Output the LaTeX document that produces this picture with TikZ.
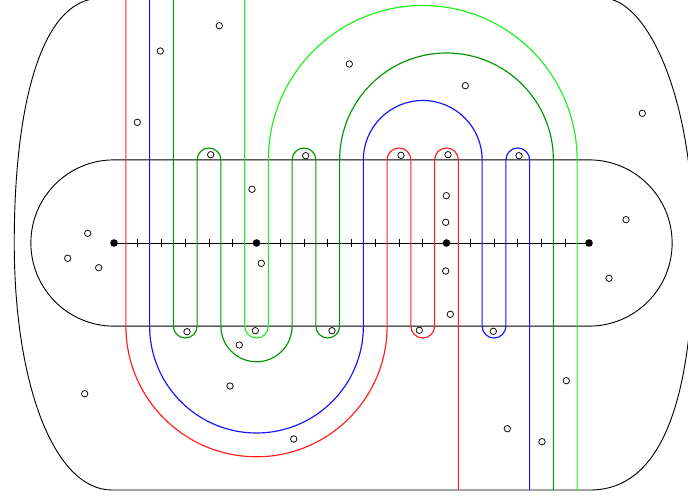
\documentclass[tikz,border=0pt]{standalone}
\usetikzlibrary{calc}
\definecolor{cred}{RGB}{255,30,30}
\definecolor{cblue}{RGB}{20,20,255}
\definecolor{cdgreen}{RGB}{0,150,0}
\definecolor{clgreen}{RGB}{30,240,30}
\tikzset{
  strand/.style={line width=1.4pt, line join=round},
  frame/.style={line width=1.1pt, black},
  hole/.style={circle, draw, line width=0.9pt, minimum size=0.27cm, inner sep=0pt, fill=white},
  mdot/.style={circle, fill=black, minimum size=0.32cm, inner sep=0pt},
}
\begin{document}
\begin{tikzpicture}
\useasboundingbox (-4.8,-10.6105) rectangle (24.168,10.2316);
\clip (-4.8,-10.6105) rectangle (24.168,10.2316);
% outer boundary
\draw[frame] (-0.59,10.3) .. controls (-3,10.3) and (-4.2,6) .. (-4.2,0)
  .. controls (-4.2,-6) and (-2.5,-10.4) .. (-0.084,-10.4)
  -- (20.04,-10.4)
  .. controls (23.3,-10.4) and (24.4,-6) .. (24.4,0)
  .. controls (24.4,6.5) and (22.3,10.3) .. (20.63,10.3) -- cycle;
% stadium
\draw[frame] (0,3.5) -- (20,3.5) arc(90:-90:3.5) -- (0,-3.5) arc(270:90:3.5) -- cycle;
% axis
\draw[line width=1.1pt] (0,0) -- (20,0);
\foreach \k in {1,...,5,7,8,...,13,15,16,...,19}
  \draw[line width=1.1pt] (\k,-0.17) -- (\k,0.17);
\node[mdot] (d0) at (0,0) {};
\node[mdot] (d6) at (6,0) {};
\node[mdot] (d14) at (14,0) {};
\node[mdot] (d20) at (20,0) {};
% strands
\draw[strand, cred] (0.5,10.4) -- (0.5,-3.5) arc(180:360:5.5) -- (11.5,3.5) arc(180:0:0.5)
  -- (12.5,-3.5) arc(180:360:0.5) -- (13.5,3.5) arc(180:0:0.5) -- (14.5,-10.4);
\draw[strand, cblue] (1.5,10.4) -- (1.5,-3.5) arc(180:360:4.5) -- (10.5,3.5) arc(180:0:2.5)
  -- (15.5,-3.5) arc(180:360:0.5) -- (16.5,3.5) arc(180:0:0.5) -- (17.5,-10.4);
\draw[strand, cdgreen] (2.5,10.4) -- (2.5,-3.5) arc(180:360:0.5) -- (3.5,3.5) arc(180:0:0.5)
  -- (4.5,-3.5) arc(180:360:1.5) -- (7.5,3.5) arc(180:0:0.5) -- (8.5,-3.5) arc(180:360:0.5)
  -- (9.5,3.5) arc(180:0:4.5) -- (18.5,-10.4);
\draw[strand, clgreen] (5.5,10.4) -- (5.5,-3.5) arc(180:360:0.5) -- (6.5,3.5) arc(180:0:6.5)
  -- (19.5,-10.4);
% holes
\foreach \a/\b [count=\i] in {219.3/25.7, 160.3/51, 137.3/122.3, 349.3/64, 465.3/85.7, 642.3/113.3,
  210.7/154.7, 252/189.3, 305.7/155.7, 261.3/263.3, 187/331.7, 255.3/330.7, 239.3/345, 332/330.7,
  401/155.3, 448/154.7, 446.3/195.7, 445.7/222.3, 445.7/271, 450.3/314.3, 419.3/330.3, 493.3/331.3, 519/155.7,
  84.7/393.7, 230/386, 293.7/439, 566.3/380.7, 507.3/428.7, 542/441.7,
  87.7/233.3, 67.7/258.3, 98.7/267.7, 626/219.7, 609/278.3}
  \node[hole] (h\i) at ({(\a-114)/23.75},{(243-\b)/23.75}) {};
\end{tikzpicture}
\end{document}
